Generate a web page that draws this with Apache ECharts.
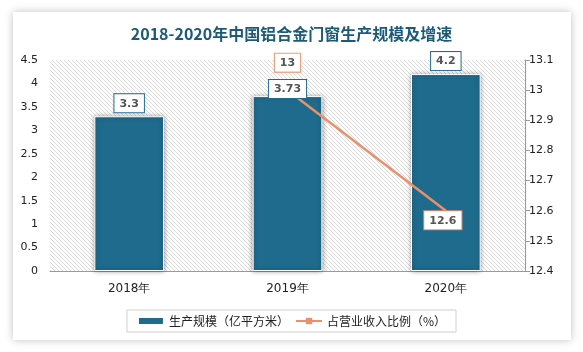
<!DOCTYPE html>
<html>
<head>
<meta charset="utf-8">
<script src="https://cdn.jsdelivr.net/npm/echarts@6/dist/echarts.min.js"></script>
<style>
  html, body { margin: 0; padding: 0; background: #fff; }
  #card {
    position: absolute; left: 13px; top: 12px; width: 558px; height: 328px;
    background: #fff; box-shadow: 0 0 8px rgba(0, 0, 0, 0.25);
  }
  #chart { position: absolute; left: 0; top: 0; width: 583px; height: 352px; }
</style>
</head>
<body>
<div id="card"></div>
<div id="chart"></div>
<script>
const categories = ["2018年", "2019年", "2020年"];
const scaleValues = [3.3, 3.73, 4.2];
const shareValues = [null, 13, 12.6];

// diagonal hatch for the plot background
function hatch() {
  const c = document.createElement("canvas");
  c.width = 4;
  c.height = 4;
  const ctx = c.getContext("2d");
  ctx.fillStyle = "#fff";
  ctx.fillRect(0, 0, 4, 4);
  ctx.strokeStyle = "#dadada";
  ctx.lineWidth = 1;
  ctx.beginPath();
  ctx.moveTo(0, 0);
  ctx.lineTo(4, 4);
  ctx.moveTo(-1, 3);
  ctx.lineTo(1, 5);
  ctx.moveTo(3, -1);
  ctx.lineTo(5, 1);
  ctx.stroke();
  return c;
}

const chart = echarts.init(document.getElementById("chart"));
const labelFont = { fontFamily: "DejaVu Sans", fontSize: 11, color: "#222" };
const boxLabel = {
  show: true,
  fontFamily: "DejaVu Sans",
  fontSize: 11,
  fontWeight: "bold",
  color: "#555",
  backgroundColor: "#fff",
  borderWidth: 1,
  padding: [4, 5, 3, 5],
};

chart.setOption({
  title: {
    text: "2018-2020年中国铝合金门窗生产规模及增速",
    left: "center",
    top: 21,
    textStyle: {
      fontFamily: "Noto Sans CJK SC",
      fontSize: 16,
      fontWeight: "bold",
      color: "#1b5a78",
    },
  },
  grid: {
    left: 50,
    right: 58,
    top: 60,
    bottom: 81,
    show: true,
    borderWidth: 0,
    backgroundColor: { image: hatch(), repeat: "repeat" },
  },
  legend: {
    bottom: 20,
    left: "center",
    borderColor: "#d0d0d0",
    borderWidth: 1,
    padding: [5, 10],
    itemGap: 6,
    itemWidth: 26,
    itemHeight: 8,
    textStyle: { fontFamily: "Noto Sans CJK SC", fontSize: 12, color: "#222" },
    data: [
      { name: "生产规模（亿平方米）", icon: "rect" },
      { name: "占营业收入比例（%）" },
    ],
  },
  xAxis: {
    type: "category",
    data: categories,
    axisLine: { lineStyle: { color: "#999" } },
    axisTick: { show: false },
    axisLabel: { ...labelFont, fontSize: 12, margin: 12 },
  },
  yAxis: [
    {
      type: "value",
      min: 0,
      max: 4.5,
      interval: 0.5,
      splitLine: { show: false },
      axisLine: { show: false },
      axisTick: { show: false },
      axisLabel: { ...labelFont, margin: 12 },
    },
    {
      type: "value",
      min: 12.4,
      max: 13.1,
      interval: 0.1,
      splitLine: { show: false },
      axisLine: { show: true, lineStyle: { color: "#999" } },
      axisTick: { show: true, length: 5, lineStyle: { color: "#999" } },
      axisLabel: { ...labelFont, margin: 4, formatter: (v) => +v.toFixed(1) + "" },
    },
  ],
  series: [
    {
      name: "生产规模（亿平方米）",
      type: "bar",
      data: scaleValues,
      barWidth: "44%",
      itemStyle: {
        color: "#1f6b8e",
        borderColor: "#fff",
        borderWidth: 1,
        shadowColor: "rgba(0,0,0,0.45)",
        shadowBlur: 5,
      },
      z: 2,
    },
    {
      name: "占营业收入比例（%）",
      type: "line",
      yAxisIndex: 1,
      data: shareValues,
      symbol: "rect",
      symbolSize: 1,
      showSymbol: true,
      lineStyle: { color: "#e8916c", width: 2.5 },
      itemStyle: { color: "#e8916c" },
      label: { ...boxLabel, position: "top", borderColor: "#e8916c" },
      labelLayout: (p) => (p.dataIndex === 1 ? { dy: -13 } : { dy: 24, dx: -3 }),
      z: 3,
    },
    {
      // transparent copy of the bars so their value boxes sit above the line
      name: "barLabels",
      type: "bar",
      data: scaleValues,
      barWidth: "44%",
      barGap: "-100%",
      itemStyle: { color: "transparent" },
      label: { ...boxLabel, position: "top", distance: 4, borderColor: "#1f6b8e" },
      labelLayout: (p) => (p.dataIndex === 1 ? { dy: 6 } : {}),
      silent: true,
      z: 4,
    },
  ],
});
</script>
</body>
</html>
